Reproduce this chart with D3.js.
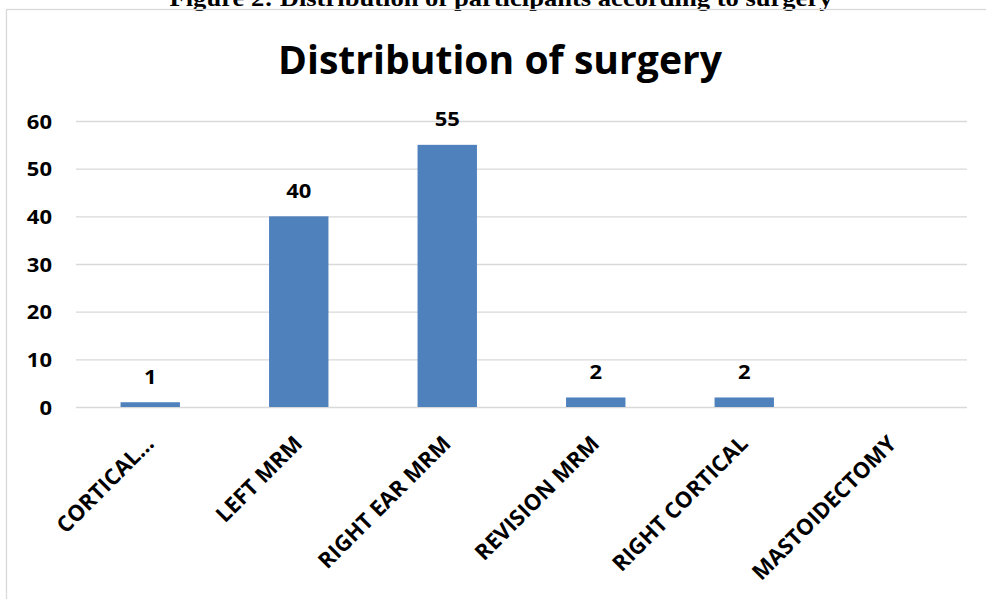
<!DOCTYPE html>
<html>
<head>
<meta charset="utf-8">
<script src="https://cdn.jsdelivr.net/npm/d3@7"></script>
<style>
  html, body { margin: 0; padding: 0; background: #fff; }
  svg { display: block; }
</style>
</head>
<body>
<div id="chart"></div>
<script>
const categories = ["CORTICAL…", "LEFT MRM", "RIGHT EAR MRM", "REVISION MRM", "RIGHT CORTICAL", "MASTOIDECTOMY"];
const values = [1, 40, 55, 2, 2, 0];
const yTicks = [0, 10, 20, 30, 40, 50, 60];
const chartTitle = "Distribution of surgery";
const caption = "Figure 2: Distribution of participants according to surgery";

const W = 986, H = 599;
const svg = d3.select("#chart").append("svg").attr("width", W).attr("height", H);

const font = "'Open Sans', Calibri, Carlito, Lato, sans-serif";
const barColor = "#4F81BD";
const gridColor = "#D9D9D9";

// caption (partially cut off at top, as in the source)
svg.append("text")
  .attr("x", 501).attr("y", 5.5)
  .attr("text-anchor", "middle")
  .attr("font-family", "'Liberation Serif', 'Times New Roman', serif")
  .attr("font-weight", "bold").attr("font-size", 24)
  .attr("textLength", 663).attr("lengthAdjust", "spacingAndGlyphs")
  .text(caption);

// chart border
svg.append("rect")
  .attr("x", 6.5).attr("y", 9.5).attr("width", 1100).attr("height", 700)
  .attr("fill", "none").attr("stroke", gridColor).attr("stroke-width", 1.3);

// title
svg.append("text")
  .attr("x", 500).attr("y", 74)
  .attr("text-anchor", "middle")
  .attr("font-family", font).attr("font-weight", "bold").attr("font-size", 39)
  .attr("textLength", 444).attr("lengthAdjust", "spacingAndGlyphs")
  .text(chartTitle);

const x = d3.scaleBand().domain(categories).range([76, 967]).paddingInner(0.6).paddingOuter(0.3);
const y = d3.scaleLinear().domain([0, 60]).range([407, 121]);

// gridlines + y labels
const yAxis = svg.append("g")
  .attr("transform", "translate(76,0)")
  .call(d3.axisLeft(y).tickValues(yTicks).tickSize(-(967 - 76)).tickPadding(24).tickFormat(d3.format("d")));
yAxis.select(".domain").remove();
yAxis.selectAll(".tick line").attr("stroke", gridColor).attr("stroke-width", 1.4);
yAxis.selectAll(".tick text")
  .attr("class", "hlabel")
  .attr("font-family", font).attr("font-weight", "bold").attr("font-size", 20)
  .attr("fill", "#000").attr("dy", "0.36em");

// bars
svg.append("g").selectAll("rect")
  .data(values)
  .join("rect")
  .attr("x", (d, i) => x(categories[i]))
  .attr("y", d => y(d))
  .attr("width", x.bandwidth())
  .attr("height", d => y(0) - y(d))
  .attr("fill", barColor);

// data labels
svg.append("g").selectAll("text")
  .data(values.map((v, i) => ({ v, c: categories[i] })).filter(d => d.v > 0))
  .join("text")
  .attr("class", "hlabel")
  .attr("x", d => x(d.c) + x.bandwidth() / 2)
  .attr("y", d => y(d.v) - 18.5)
  .attr("text-anchor", "middle")
  .attr("font-family", font).attr("font-weight", "bold").attr("font-size", 20)
  .text(d => d.v);

// category labels rotated -45
svg.append("g").selectAll("text")
  .data(categories)
  .join("text")
  .attr("transform", d => `translate(${x(d) + x.bandwidth() / 2 + 5},445) rotate(-45)`)
  .attr("text-anchor", "end")
  .attr("font-family", font).attr("font-weight", "bold").attr("font-size", 22)
  .text(d => d);

// stretch horizontal numeric labels slightly to match the wide source rendering
svg.selectAll(".hlabel").each(function () {
  const len = this.getComputedTextLength();
  d3.select(this).attr("textLength", len * 1.1).attr("lengthAdjust", "spacingAndGlyphs");
});
</script>
</body>
</html>
